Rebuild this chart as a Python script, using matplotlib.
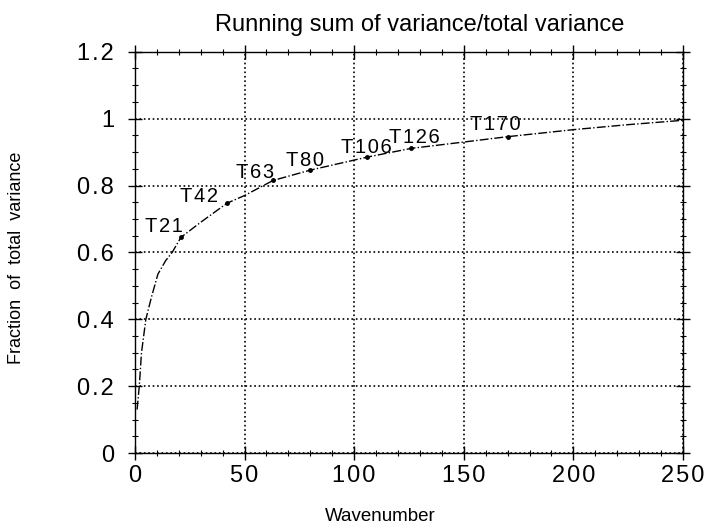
import matplotlib
matplotlib.use("Agg")
import matplotlib.pyplot as plt
from matplotlib.ticker import MultipleLocator

plt.rcParams['font.family'] = ['Liberation Sans', 'DejaVu Sans']

# Running sum of variance
wavenumber = [1, 2, 3, 5, 7.5, 10.5, 14, 17, 21, 30, 42, 50, 63, 80, 106, 126, 150, 170, 200, 225, 250]
fraction = [0.13, 0.20, 0.30, 0.40, 0.465, 0.535, 0.575, 0.60, 0.645, 0.69, 0.747, 0.77, 0.815,
            0.846, 0.885, 0.911, 0.93, 0.946, 0.967, 0.982, 0.995]

# Truncations marked on the curve
trunc_names = ['T21', 'T42', 'T63', 'T80', 'T106', 'T126', 'T170']
trunc_wn = [21, 42, 63, 80, 106, 126, 170]
trunc_frac = [0.645, 0.747, 0.815, 0.846, 0.885, 0.911, 0.946]
label_offsets = [(-12, 8), (-20, 5), (-13, 6), (-4, 7), (-1, 7), (2, 8), (-9, 9)]

x_ticks = [0, 50, 100, 150, 200, 250]
x_ticklabels = ['0', '50', '100', '150', '200', '250']
y_ticks = [0, 0.2, 0.4, 0.6, 0.8, 1.0, 1.2]
y_ticklabels = ['0', '0.2', '0.4', '0.6', '0.8', '1', '1.2']


def spaced(s):
    # the original uses slightly wide letter spacing
    return '\u200a'.join(s)


fig = plt.figure(figsize=(7.1, 5.28), dpi=100)
ax = fig.add_axes([0.190, 0.142, 0.772, 0.760])

ax.plot(wavenumber, fraction, color='black', linestyle='-.', linewidth=1.0)
ax.plot(trunc_wn, trunc_frac, 'o', color='black', markersize=2.5)

for name, x, y, off in zip(trunc_names, trunc_wn, trunc_frac, label_offsets):
    ax.annotate(spaced(name), (x, y), xytext=off, textcoords='offset points',
                ha='center', va='center', fontsize=14.5)

ax.set_xlim(0, 250)
ax.set_ylim(0, 1.2)
ax.set_xticks(x_ticks)
ax.set_xticklabels([spaced(t) for t in x_ticklabels])
ax.set_yticks(y_ticks)
ax.set_yticklabels([spaced(t) for t in y_ticklabels])
ax.xaxis.set_minor_locator(MultipleLocator(10))
ax.yaxis.set_minor_locator(MultipleLocator(0.05))

ax.grid(True, which='major', linestyle=':', color='black', linewidth=1.2)
ax.tick_params(which='major', direction='inout', length=10, width=1, labelsize=17,
               top=True, right=True)
ax.tick_params(axis='y', which='major', pad=10)
ax.tick_params(which='minor', direction='inout', length=5, width=0.8, top=True, right=True)
for s in ax.spines.values():
    s.set_linewidth(1.0)

ax.set_title('Running sum of variance/total variance', fontsize=17, pad=15, x=0.52)
ax.set_xlabel('Wavenumber', fontsize=13.5)
ax.xaxis.set_label_coords(0.447, -0.138)
ax.set_ylabel('Fraction  of  total  variance', fontsize=13)
ax.yaxis.set_label_coords(-0.2, 0.486)

fig.savefig('out.png', dpi=100)
